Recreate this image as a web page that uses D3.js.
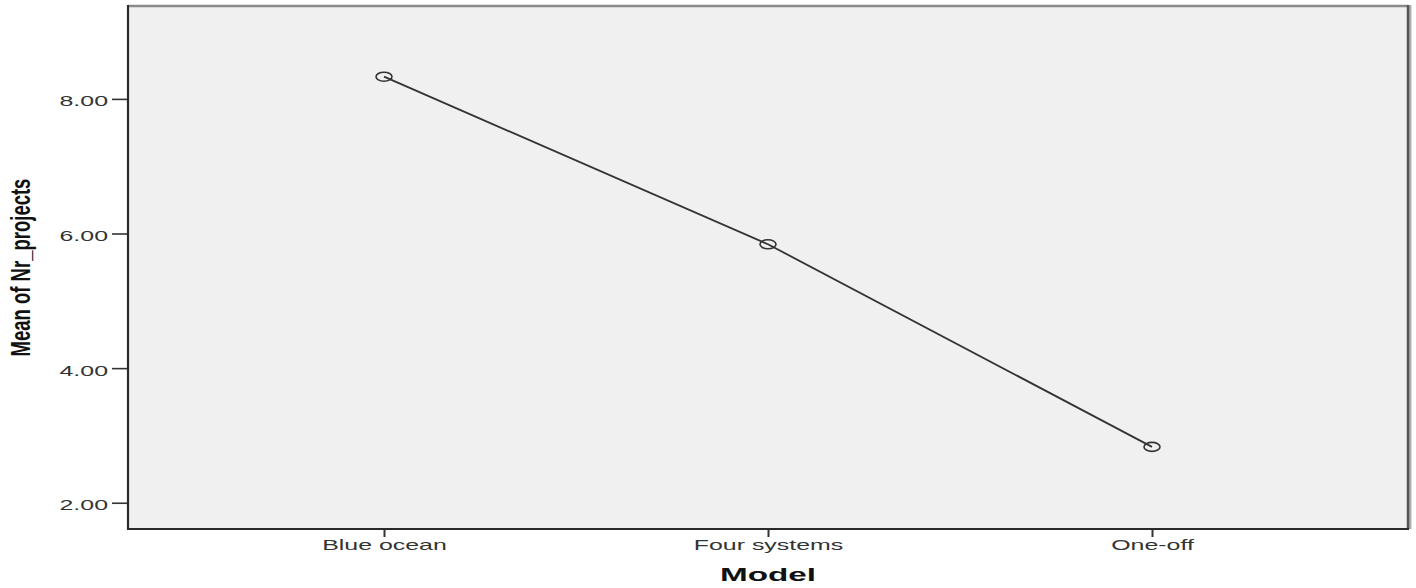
<!DOCTYPE html>
<html>
<head>
<meta charset="utf-8">
<script src="https://cdn.jsdelivr.net/npm/d3@7"></script>
<style>
  html, body { margin: 0; padding: 0; background: #ffffff; }
  svg { display: block; }
</style>
</head>
<body>
<svg id="chart" width="1416" height="588"></svg>
<script>
// ---- data ----
const categories = ["Blue ocean", "Four systems", "One-off"];
const meanValues = [8.33, 5.84, 2.83];
const yTickValues = [2, 4, 6, 8];
const yTickLabels = ["2.00", "4.00", "6.00", "8.00"];
const xAxisTitle = "Model";
const yAxisTitle = "Mean of Nr_projects";

// ---- layout ----
const W = 1416, H = 588;
const plot = { left: 128, right: 1408, top: 6, bottom: 529 };
const SX = 1.78; // horizontal stretch of the text

const svg = d3.select("#chart");

const x = d3.scalePoint()
  .domain(categories)
  .range([plot.left, plot.right])
  .padding(2 / 3);

const y = d3.scaleLinear()
  .domain([1.61, 9.38])
  .range([plot.bottom, plot.top]);

// plot background
svg.append("rect")
  .attr("x", plot.left).attr("y", plot.top)
  .attr("width", plot.right - plot.left)
  .attr("height", plot.bottom - plot.top)
  .attr("fill", "#f0f0f0");

// top & right frame (gray, shaded)
svg.append("line")
  .attr("x1", plot.left).attr("x2", plot.right)
  .attr("y1", plot.top).attr("y2", plot.top)
  .attr("stroke", "#8a8a8a").attr("stroke-width", 2.5);
svg.append("line")
  .attr("x1", plot.right + 1.5).attr("x2", plot.right + 1.5)
  .attr("y1", plot.top - 1).attr("y2", plot.bottom)
  .attr("stroke", "#b0b0b0").attr("stroke-width", 4);
svg.append("line")
  .attr("x1", plot.right).attr("x2", plot.right)
  .attr("y1", plot.top - 1).attr("y2", plot.bottom)
  .attr("stroke", "#555555").attr("stroke-width", 2.5);

// Y axis
const yAxis = d3.axisLeft(y)
  .tickValues(yTickValues)
  .tickSize(16)
  .tickFormat((d, i) => yTickLabels[i]);
const gy = svg.append("g")
  .attr("transform", `translate(${plot.left},0)`)
  .call(yAxis);
gy.select(".domain").remove();
gy.selectAll(".tick line").attr("stroke", "#333").attr("stroke-width", 1.6);
gy.selectAll(".tick text")
  .attr("x", null).attr("dy", null)
  .attr("transform", `translate(-20,7) scale(${SX},1)`)
  .attr("text-anchor", "end")
  .attr("fill", "#333")
  .style("font-family", "'Liberation Sans', Arial, sans-serif")
  .style("font-size", "14px");

// X axis
const xAxis = d3.axisBottom(x).tickSize(8);
const gx = svg.append("g")
  .attr("transform", `translate(0,${plot.bottom})`)
  .call(xAxis);
gx.select(".domain").remove();
gx.selectAll(".tick line").attr("stroke", "#333").attr("stroke-width", 2);
gx.selectAll(".tick text")
  .attr("y", null).attr("dy", null)
  .attr("transform", `translate(0,21) scale(${SX},1)`)
  .attr("text-anchor", "middle")
  .attr("fill", "#333")
  .style("font-family", "'Liberation Sans', Arial, sans-serif")
  .style("font-size", "14px");

// left & bottom axis lines
svg.append("line")
  .attr("x1", plot.left).attr("x2", plot.left)
  .attr("y1", plot.top - 1).attr("y2", plot.bottom + 1)
  .attr("stroke", "#2a2a2a").attr("stroke-width", 2.2);
svg.append("line")
  .attr("x1", plot.left - 1).attr("x2", plot.right + 1)
  .attr("y1", plot.bottom).attr("y2", plot.bottom)
  .attr("stroke", "#2a2a2a").attr("stroke-width", 2.2);

// line
const pts = categories.map((c, i) => ({ c, v: meanValues[i] }));
svg.append("path")
  .datum(pts)
  .attr("fill", "none")
  .attr("stroke", "#333")
  .attr("stroke-width", 1.8)
  .attr("d", d3.line().x(d => x(d.c)).y(d => y(d.v)));

// markers
svg.selectAll("ellipse.marker")
  .data(pts)
  .join("ellipse")
  .attr("class", "marker")
  .attr("cx", d => x(d.c))
  .attr("cy", d => y(d.v))
  .attr("rx", 8)
  .attr("ry", 4.5)
  .attr("fill", "none")
  .attr("stroke", "#333")
  .attr("stroke-width", 1.6);

// axis titles
svg.append("text")
  .attr("transform", `translate(${(plot.left + plot.right) / 2},581) scale(1.85,1)`)
  .attr("text-anchor", "middle")
  .attr("fill", "#111")
  .style("font-family", "'Liberation Sans', Arial, sans-serif")
  .style("font-size", "18px")
  .style("font-weight", "bold")
  .text(xAxisTitle);

svg.append("text")
  .attr("transform", `translate(30,${(plot.top + plot.bottom) / 2}) scale(1.5,1) rotate(-90)`)
  .attr("text-anchor", "middle")
  .attr("fill", "#111")
  .style("font-family", "'Liberation Sans', Arial, sans-serif")
  .style("font-size", "18.5px")
  .style("font-weight", "bold")
  .text(yAxisTitle);
</script>
</body>
</html>
